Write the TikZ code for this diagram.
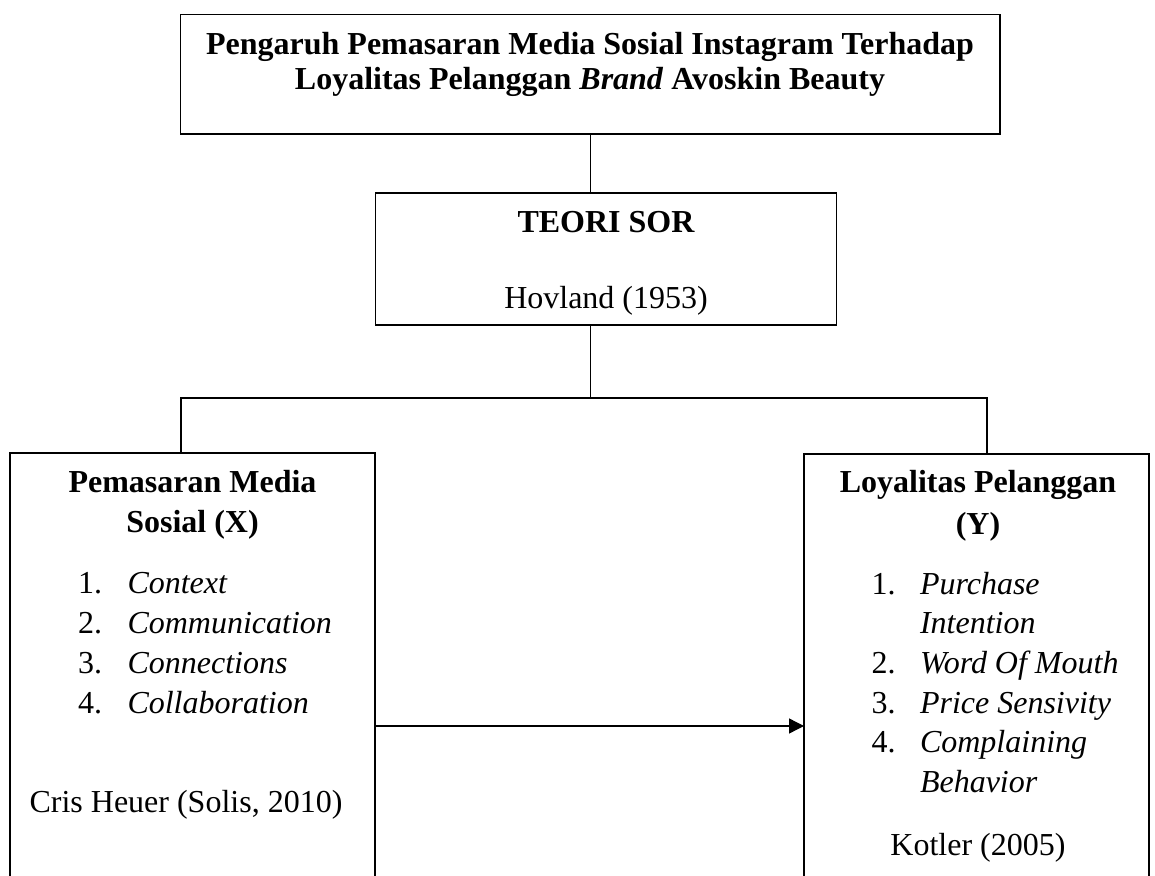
\documentclass[tikz,border=0pt]{standalone}
\usepackage{fontspec}
\setmainfont{Liberation Serif}
\usetikzlibrary{arrows.meta}
\newlength{\du}
\setlength{\du}{0.5pt}
\definecolor{dialinecolor}{rgb}{0.000000, 0.000000, 0.000000}
\tikzset{
  diabox/.style={draw=dialinecolor, line width=1.300000\du, rectangle, inner sep=0pt, outer sep=0pt, anchor=north west},
  dialine/.style={draw=dialinecolor, line width=1.300000\du},
  diaarrow/.style={dialine, -{Triangle[length=7.5pt,width=7.5pt]}},
  diatext/.style={anchor=base, inner sep=0pt, outer sep=0pt, color=dialinecolor, font=\fontsize{16}{18}\selectfont},
  diahead/.style={diatext, font=\fontsize{16}{18}\selectfont\bfseries},
  dialist/.style={diatext, anchor=base west},
  dialistit/.style={dialist, font=\fontsize{16}{18}\selectfont\itshape},
}

\begin{document}
\begin{tikzpicture}
\pgftransformxscale{1.000000}
\pgftransformyscale{-1.000000}
\useasboundingbox (0\du,0\du) rectangle (1155.000000\du,876.000000\du);
\clip (0\du,0\du) rectangle (1155.000000\du,876.000000\du);
% boxes
\node[diabox, minimum width=819.500000\du, minimum height=119.500000\du] (judul) at (180.500000\du,14.500000\du) {};
\node[diabox, minimum width=461.000000\du, minimum height=132.000000\du] (teori) at (375.500000\du,193.000000\du) {};
\node[diabox, minimum width=365.000000\du, minimum height=460.000000\du] (kiri) at (10.000000\du,453.000000\du) {};
\node[diabox, minimum width=345.000000\du, minimum height=460.000000\du] (kanan) at (804.000000\du,454.000000\du) {};
% connectors
\coordinate (cabang) at (590.000000\du,398.000000\du);
\coordinate (cabangkiri) at (181.000000\du,398.000000\du);
\coordinate (cabangkanan) at (987.000000\du,398.000000\du);
\coordinate (panah) at (0\du,726.000000\du);
\draw[dialine] (judul.south) -- (judul.south |- teori.north);
\draw[dialine] (judul.south |- teori.south) -- (judul.south |- cabang);
\draw[dialine] (cabangkiri |- kiri.north) -- (cabangkiri) -- (cabangkanan) -- (cabangkanan |- kanan.north);
\draw[diaarrow] (kiri.east |- panah) -- (kanan.west |- panah);
% texts
\node[diahead] (judul1) at (590.000000\du,55.000000\du) {Pengaruh Pemasaran Media Sosial Instagram Terhadap};
\node[diahead] (judul2) at (590.000000\du,90.000000\du) {Loyalitas Pelanggan \textit{Brand} Avoskin Beauty};
\node[diahead] (teori1) at (606.000000\du,233.000000\du) {TEORI SOR};
\node[diatext] (teori2) at (606.000000\du,309.000000\du) {Hovland (1953)};
\node[diahead] (kiri1) at (192.500000\du,492.000000\du) {Pemasaran Media};
\node[diahead] (kiri2) at (192.500000\du,532.000000\du) {Sosial (X)};
\node[dialist] (kirino1) at (78.000000\du,593.000000\du) {1.};
\node[dialistit] (kiriitem1) at (127.500000\du,593.000000\du) {Context};
\node[dialist] (kirino2) at (78.000000\du,633.000000\du) {2.};
\node[dialistit] (kiriitem2) at (127.500000\du,633.000000\du) {Communication};
\node[dialist] (kirino3) at (78.000000\du,673.000000\du) {3.};
\node[dialistit] (kiriitem3) at (127.500000\du,673.000000\du) {Connections};
\node[dialist] (kirino4) at (78.000000\du,713.000000\du) {4.};
\node[dialistit] (kiriitem4) at (127.500000\du,713.000000\du) {Collaboration};
\node[diatext] (kirisumber) at (186.000000\du,812.000000\du) {Cris Heuer (Solis, 2010)};
\node[diahead] (kanan1) at (978.000000\du,493.000000\du) {Loyalitas Pelanggan};
\node[diahead] (kanan2) at (978.000000\du,534.000000\du) {(Y)};
\node[dialist] (kananno1) at (871.500000\du,594.000000\du) {1.};
\node[dialistit] (kananitem1) at (920.000000\du,594.000000\du) {Purchase};
\node[dialistit] (kananitem1b) at (920.000000\du,633.000000\du) {Intention};
\node[dialist] (kananno2) at (871.500000\du,673.000000\du) {2.};
\node[dialistit] (kananitem2) at (920.000000\du,673.000000\du) {Word Of Mouth};
\node[dialist] (kananno3) at (871.500000\du,713.000000\du) {3.};
\node[dialistit] (kananitem3) at (920.000000\du,713.000000\du) {Price Sensivity};
\node[dialist] (kananno4) at (871.500000\du,752.000000\du) {4.};
\node[dialistit] (kananitem4) at (920.000000\du,752.000000\du) {Complaining};
\node[dialistit] (kananitem4b) at (920.000000\du,792.000000\du) {Behavior};
\node[diatext] (kanansumber) at (978.000000\du,855.000000\du) {Kotler (2005)};
\end{tikzpicture}
\end{document}
